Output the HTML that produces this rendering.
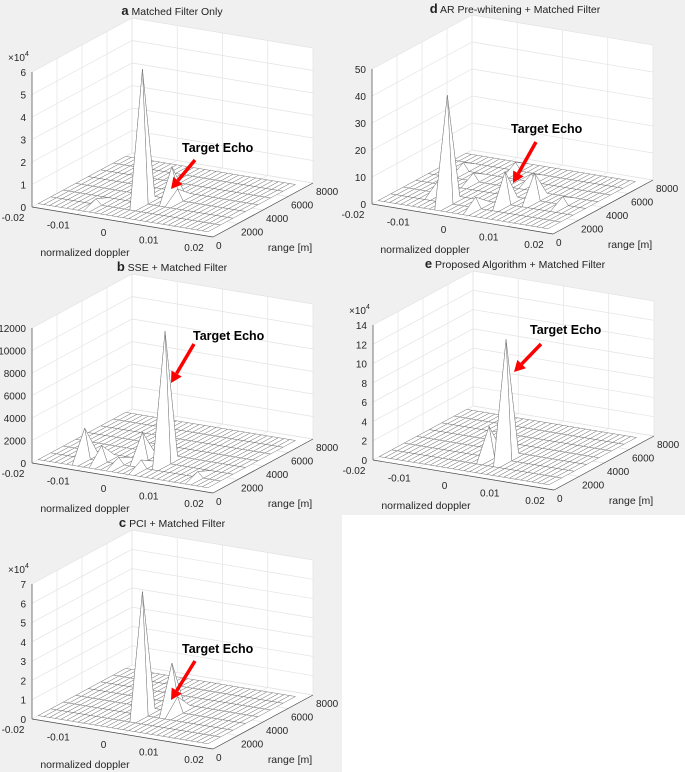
<!DOCTYPE html>
<html><head><meta charset="utf-8">
<style>
html,body{margin:0;padding:0;background:#f0f0f0;}
svg{display:block;font-family:"Liberation Sans",Arial,sans-serif;}
</style></head>
<body>
<svg id="fig" width="685" height="772" viewBox="0 0 685 772">
<rect x="0" y="0" width="685" height="772" fill="#f0f0f0"/>
<rect x="342" y="515" width="343" height="257" fill="#ffffff"/>
</svg>
<script>
// ---- shared axis data ----
const dopplerTicks = [-0.02, -0.01, 0, 0.01, 0.02];
const dopplerTickLabels = ["-0.02", "-0.01", "0", "0.01", "0.02"];
const rangeTicks = [0, 2000, 4000, 6000, 8000];
const rangeTickLabels = ["0", "2000", "4000", "6000", "8000"];
const meshDoppler = [-0.02,-0.01875,-0.0175,-0.01625,-0.015,-0.01375,-0.0125,-0.01125,-0.01,-0.00875,-0.0075,-0.00625,-0.005,-0.00375,-0.0025,-0.00125,0,0.00125,0.0025,0.00375,0.005,0.00625,0.0075,0.00875,0.01,0.01125,0.0125,0.01375,0.015,0.01625,0.0175];
const meshRange = [500, 1500, 2500, 3500, 4500, 5500, 6500, 7500];

// ---- panel a ----
const aZTicks = [0, 1, 2, 3, 4, 5, 6];
const aPeakDoppler = [-0.0025, 0.00125, 0.0025, -0.01];
const aPeakRange = [2500, 3500, 3500, 1500];
const aPeakValue = [5.95, 1.45, 0.5, 0.25];
// ---- panel b ----
const bZTicks = [0, 2000, 4000, 6000, 8000, 10000, 12000];
const bPeakDoppler = [0.0025, -0.0125, -0.0025, -0.00875, 0, 0.0125, -0.005];
const bPeakRange = [2500, 1500, 2500, 1500, 1500, 1500, 1500];
const bPeakValue = [11700, 2700, 2400, 1400, 700, 500, 600];
// ---- panel c ----
const cZTicks = [0, 1, 2, 3, 4, 5, 6, 7];
const cPeakDoppler = [-0.0025, 0.00125, 0.0025];
const cPeakRange = [2500, 3500, 3500];
const cPeakValue = [6.4, 2.5, 0.8];
// ---- panel d ----
const dZTicks = [0, 10, 20, 30, 40, 50];
const dPeakDoppler = [-0.0075, 0.0025, 0.00625, -0.015, -0.0125, -0.00625, 0, 0.0125, -0.00125, -0.01];
const dPeakRange = [1500, 2500, 3500, 5500, 2500, 6500, 5500, 3500, 1500, 4500];
const dPeakValue = [40, 12, 10, 3, 4, 3, 3, 3, 4, 3];
// ---- panel e ----
const eZTicks = [0, 2, 4, 6, 8, 10, 12, 14];
const ePeakDoppler = [0.0025, -0.00125];
const ePeakRange = [2500, 2500];
const ePeakValue = [12.5, 3.2];

const NS = "http://www.w3.org/2000/svg";
const fig = document.getElementById('fig');
function mk(tag, attrs, parent) {
  const e = document.createElementNS(NS, tag);
  for (const k in attrs) e.setAttribute(k, attrs[k]);
  parent.appendChild(e);
  return e;
}
const DV = [181, 30], RV = [100, -54], ZH = 135;

function panel(cfg) {
  const g = mk('g', {}, fig);
  
  
  const O = cfg.origin;
  const zmax = cfg.zTicks[cfg.zTicks.length - 1];
  function P(d, r, z) {
    const u = (d + 0.02) / 0.04, v = r / 8000, w = z / zmax;
    return [O[0] + DV[0] * u + RV[0] * v, O[1] + DV[1] * u + RV[1] * v - ZH * w];
  }
  const pts = a => a.map(p => p[0].toFixed(2) + ',' + p[1].toFixed(2)).join(' ');
  const box = mk('polygon', {points: pts([P(-0.02,0,0),P(-0.02,0,zmax),P(-0.02,8000,zmax),P(0.02,8000,zmax),P(0.02,8000,0),P(0.02,0,0)]), fill:'#fff'}, g);
  
  
  const gg = mk('g', {stroke:'#e3e3e3', 'stroke-width':0.7, fill:'none'}, g);
  
  
  const line = (a, b, par) => mk('line', {x1:a[0], y1:a[1], x2:b[0], y2:b[1]}, par);
  cfg.zTicks.forEach(z => {
    line(P(-0.02,0,z), P(-0.02,8000,z), gg);
    line(P(-0.02,8000,z), P(0.02,8000,z), gg);
  });
  rangeTicks.forEach(r => {
    line(P(-0.02,r,0), P(-0.02,r,zmax), gg);
    line(P(-0.02,r,0), P(0.02,r,0), gg);
  });
  dopplerTicks.forEach(d => {
    line(P(d,8000,0), P(d,8000,zmax), gg);
    line(P(d,0,0), P(d,8000,0), gg);
  });
  const Z = meshRange.map(() => meshDoppler.map(() => 0));
  for (let k = 0; k < cfg.pd.length; k++) {
    let bi = 0, bj = 0, bd = 1e9, br = 1e9;
    meshDoppler.forEach((d, i) => { if (Math.abs(d - cfg.pd[k]) < bd) { bd = Math.abs(d - cfg.pd[k]); bi = i; } });
    meshRange.forEach((r, j) => { if (Math.abs(r - cfg.pr[k]) < br) { br = Math.abs(r - cfg.pr[k]); bj = j; } });
    Z[bj][bi] = Math.max(Z[bj][bi], cfg.pv[k]);
  }
  const quads = [];
  for (let j = 0; j < meshRange.length - 1; j++)
    for (let i = 0; i < meshDoppler.length - 1; i++) {
      const q = [P(meshDoppler[i],meshRange[j],Z[j][i]), P(meshDoppler[i+1],meshRange[j],Z[j][i+1]),
                 P(meshDoppler[i+1],meshRange[j+1],Z[j+1][i+1]), P(meshDoppler[i],meshRange[j+1],Z[j+1][i])];
      const c = P((meshDoppler[i]+meshDoppler[i+1])/2, (meshRange[j]+meshRange[j+1])/2, 0);
      quads.push({q, depth: c[1]});
    }
  quads.sort((a, b) => a.depth - b.depth);
  const mg = mk('g', {fill:'#fff', stroke:'#777', 'stroke-width':0.5, 'stroke-linejoin':'round'}, g);
  
  
  quads.forEach(o => mk('polygon', {points: pts(o.q)}, mg));
  const ax = mk('g', {stroke:'#4a4a4a', 'stroke-width':0.7}, g);
  
  
  line(P(-0.02,0,0), P(0.02,0,0), ax);
  line(P(0.02,0,0), P(0.02,8000,0), ax);
  line(P(-0.02,0,0), P(-0.02,0,zmax), ax);
  const tg = mk('g', {'font-size':'10px', fill:'#262626'}, g);
  
  
  cfg.zTicks.forEach(z => {
    const p = P(-0.02,0,z);
    const t = mk('text', {x:p[0]-6, y:p[1]+4, 'text-anchor':'end'}, tg);
    t.textContent = String(z);
    
    
  });
  dopplerTicks.forEach((d, i) => {
    const p = P(d,0,0);
    const t = mk('text', {x:p[0]-19, y:p[1]+14, 'text-anchor':'middle'}, tg);
    t.textContent = dopplerTickLabels[i];
    
    
  });
  rangeTicks.forEach((r, i) => {
    const p = P(0.02,r,0);
    const t = mk('text', {x:p[0]+3, y:p[1]+12}, tg);
    t.textContent = rangeTickLabels[i];
    
    
  });
  if (cfg.exp) {
    const t = mk('text', {x:O[0]-24, y:O[1]-ZH-11, 'font-size':'10px'}, tg);
    t.innerHTML = '×10<tspan dy="-5" font-size="7px">4</tspan>';
    
    
  }
  const xl = mk('text', {x:O[0]+53, y:O[1]+49, 'text-anchor':'middle', 'font-size':'10.5px', fill:'#262626'}, g);
  xl.textContent = 'normalized doppler';
  
  
  const rl = mk('text', {x:O[0]+258, y:O[1]+44, 'text-anchor':'middle', 'font-size':'10.5px', fill:'#262626'}, g);
  rl.textContent = 'range [m]';
  
  
  const tt = mk('text', {x:cfg.title[0], y:cfg.title[1], 'text-anchor':'middle', 'font-size':'10.5px', fill:'#222'}, g);
  tt.innerHTML = '<tspan font-weight="bold" font-size="13px">' + cfg.id + '</tspan> ' + cfg.titleText;
  
  
  const an = mk('text', {x:cfg.label[0], y:cfg.label[1], 'font-size':'12.5px', 'font-weight':'bold', fill:'#000'}, g);
  an.textContent = 'Target Echo';
  
  
  const [tx, ty] = cfg.tail, [hx, hy] = cfg.head;
  const L = Math.hypot(hx - tx, hy - ty), ux = (hx - tx) / L, uy = (hy - ty) / L;
  const bx = hx - ux * 11, by = hy - uy * 11;
  const ag = mk('g', {}, g);
  
  
  mk('line', {x1:tx, y1:ty, x2:bx, y2:by, stroke:'#ff0000', 'stroke-width':3.5}, ag);
  mk('polygon', {points: pts([[hx,hy],[bx - uy*6, by + ux*6],[bx + uy*6, by - ux*6]]), fill:'#ff0000'}, ag);
}
panel({id:'a', titleText:'Matched Filter Only', title:[172,15], origin:[32,207], zTicks:aZTicks, exp:true,
  pd:aPeakDoppler, pr:aPeakRange, pv:aPeakValue, label:[182,152], tail:[195,160], head:[171,189]});
panel({id:'b', titleText:'SSE + Matched Filter', title:[172,271], origin:[32,463], zTicks:bZTicks, exp:false,
  pd:bPeakDoppler, pr:bPeakRange, pv:bPeakValue, label:[193,340], tail:[194,344], head:[171,383]});
panel({id:'c', titleText:'PCI + Matched Filter', title:[172,527], origin:[32,719], zTicks:cZTicks, exp:true,
  pd:cPeakDoppler, pr:cPeakRange, pv:cPeakValue, label:[182,653], tail:[195,661], head:[171,700]});
panel({id:'d', titleText:'AR Pre-whitening + Matched Filter', title:[515,13], origin:[372,204], zTicks:dZTicks, exp:false,
  pd:dPeakDoppler, pr:dPeakRange, pv:dPeakValue, label:[511,133], tail:[536,142], head:[513,183]});
panel({id:'e', titleText:'Proposed Algorithm + Matched Filter', title:[515,268], origin:[373,460], zTicks:eZTicks, exp:true,
  pd:ePeakDoppler, pr:ePeakRange, pv:ePeakValue, label:[530,334], tail:[541,344], head:[514,372]});
</script>
</body></html>
